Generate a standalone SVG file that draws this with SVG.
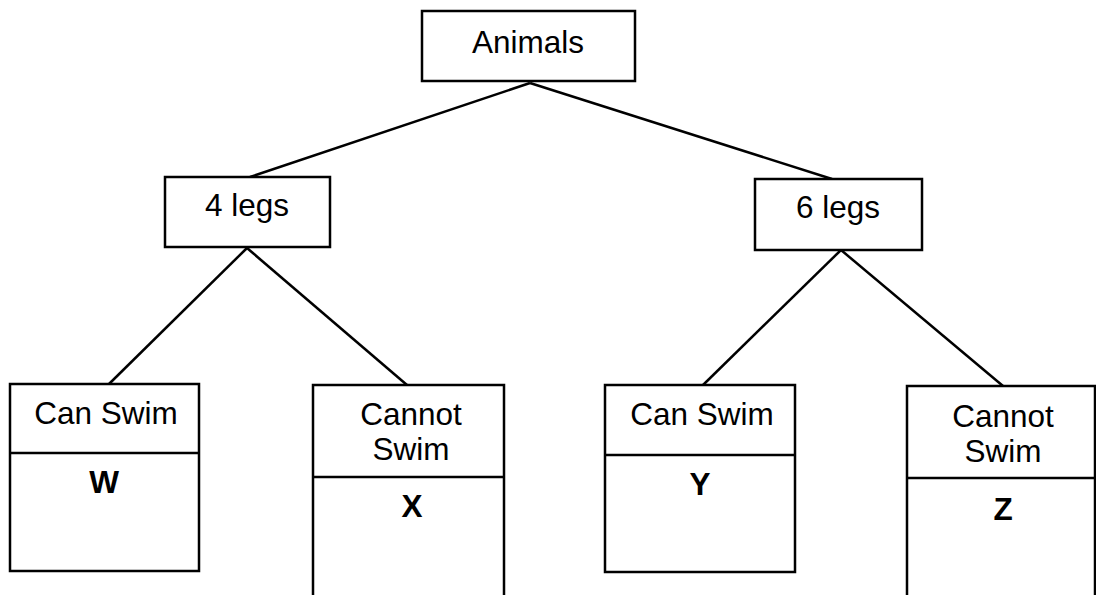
<svg xmlns="http://www.w3.org/2000/svg" width="1096" height="595" viewBox="0 0 1096 595">
<style>
.box{fill:#fff;stroke:#000;stroke-width:2.5}
.div{stroke:#000;stroke-width:2.5}
.t{font-family:"Liberation Sans",Arial,sans-serif;font-size:31.5px;fill:#000;text-anchor:middle}
.b{font-weight:bold}
.c{stroke:#000;stroke-width:2.5;fill:none}
</style>
<rect width="1096" height="595" fill="#fff"/>
<g id="connectors">
<line class="c" x1="530" y1="83" x2="250" y2="177"/>
<line class="c" x1="530" y1="83" x2="832" y2="179"/>
<line class="c" x1="247" y1="248" x2="109" y2="384"/>
<line class="c" x1="247" y1="248" x2="407" y2="385"/>
<line class="c" x1="841" y1="250" x2="702" y2="386"/>
<line class="c" x1="841" y1="250" x2="1003" y2="386"/>
</g>
<g id="animals">
<rect class="box" x="422" y="11" width="213" height="70"/>
<text class="t" x="528" y="53">Animals</text>
</g>
<g id="four-legs">
<rect class="box" x="165" y="177" width="165" height="70"/>
<text class="t" x="247" y="216">4 legs</text>
</g>
<g id="six-legs">
<rect class="box" x="755" y="179" width="167" height="71"/>
<text class="t" x="838" y="218">6 legs</text>
</g>
<g id="w-box">
<rect class="box" x="10" y="384" width="189" height="187"/>
<line class="div" x1="10" y1="453" x2="199" y2="453"/>
<text class="t" x="106" y="424">Can Swim</text>
<text class="t b" x="104" y="493">W</text>
</g>
<g id="x-box">
<rect class="box" x="313" y="385" width="191" height="212"/>
<line class="div" x1="313" y1="477" x2="504" y2="477"/>
<text class="t" x="411" y="425">Cannot</text>
<text class="t" x="411" y="460">Swim</text>
<text class="t b" x="412" y="517">X</text>
</g>
<g id="y-box">
<rect class="box" x="605" y="385" width="190" height="187"/>
<line class="div" x1="605" y1="455" x2="795" y2="455"/>
<text class="t" x="702" y="425">Can Swim</text>
<text class="t b" x="700" y="495">Y</text>
</g>
<g id="z-box">
<rect class="box" x="907" y="386" width="188" height="211"/>
<line class="div" x1="907" y1="478" x2="1095" y2="478"/>
<text class="t" x="1003" y="427">Cannot</text>
<text class="t" x="1003" y="462">Swim</text>
<text class="t b" x="1003" y="520">Z</text>
</g>
</svg>
